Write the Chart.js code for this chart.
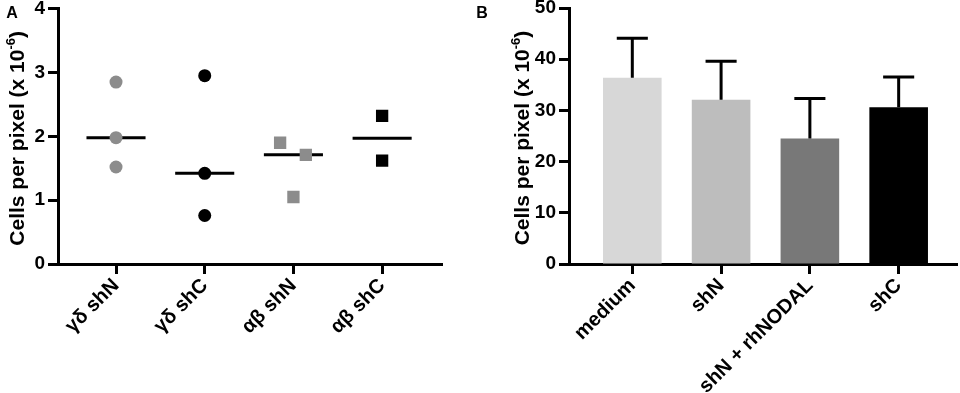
<!DOCTYPE html>
<html><head><meta charset="utf-8">
<script src="https://cdn.jsdelivr.net/npm/chart.js@4.4.1/dist/chart.umd.min.js"></script>
<style>
html,body{margin:0;padding:0;background:#fff;}
#wrap{position:relative;width:960px;height:393px;overflow:hidden;}
canvas{position:absolute;top:0;}
</style></head><body>
<div id="wrap">
<canvas id="a" width="470" height="393" style="left:0"></canvas>
<canvas id="b" width="490" height="393" style="left:470px"></canvas>
</div>
<script>
// ---------- Panel A data ----------
const groupsA = ['γδ shN', 'γδ shC', 'αβ shN', 'αβ shC'];
const gdShN = [2.85, 1.98, 1.52];
const gdShC = [2.95, 1.42, 0.76];
const abShN = [1.90, 1.71, 1.05];
const abShC = [2.32, 1.62];
const abShNJitter = [-0.15, 0.14, 0];   // horizontal scatter within the column
const ticksA = [0, 1, 2, 3, 4];

// ---------- Panel B data ----------
const treatments = ['medium', 'shN', 'shN + rhNODAL', 'shC'];
const meanB = [36.4, 32.1, 24.5, 30.6];
const errB = [7.7, 7.5, 7.8, 5.9];
const ticksB = [0, 10, 20, 30, 40, 50];

const FONT = "'Liberation Sans', Arial, Helvetica, sans-serif";
const GRAY_MARK = '#8c8c8c';
const barColors = ['#d7d7d7', '#bdbdbd', '#787878', '#000000'];

function median(arr) {
  const s = [...arr].sort((a, b) => a - b);
  const m = Math.floor(s.length / 2);
  return s.length % 2 ? s[m] : (s[m - 1] + s[m]) / 2;
}

// title with superscript + panel letter
const titlePlugin = {
  id: 'panelTitle',
  afterDraw(chart, args, o) {
    const ctx = chart.ctx;
    const ca = chart.chartArea;
    const fs = o.size;
    ctx.save();
    ctx.fillStyle = '#000';
    ctx.font = 'bold ' + o.letterSize + 'px ' + FONT;
    ctx.textAlign = 'center';
    ctx.textBaseline = 'middle';
    ctx.fillText(o.letter, o.letterX, o.letterY);
    const cy = (ca.top + ca.bottom) / 2 + o.dy;
    ctx.translate(o.x, cy);
    ctx.rotate(-Math.PI / 2);
    ctx.textAlign = 'left';
    ctx.textBaseline = 'alphabetic';
    const mainFont = 'bold ' + fs + 'px ' + FONT;
    const supFont = 'bold ' + Math.round(fs * 0.62) + 'px ' + FONT;
    ctx.font = mainFont; const w1 = ctx.measureText(o.text).width;
    ctx.font = supFont; const w2 = ctx.measureText(o.sup).width;
    ctx.font = mainFont; const w3 = ctx.measureText(o.tail).width;
    let x = -(w1 + w2 + w3) / 2;
    const base = fs * 0.36;
    ctx.font = mainFont; ctx.fillText(o.text, x, base); x += w1;
    ctx.font = supFont; ctx.fillText(o.sup, x, base - fs * 0.42); x += w2;
    ctx.font = mainFont; ctx.fillText(o.tail, x, base);
    ctx.restore();
  }
};

const medianPlugin = {
  id: 'medianLines',
  beforeDatasetsDraw(chart, args, o) {
    const ctx = chart.ctx, xs = chart.scales.x, ys = chart.scales.y;
    ctx.save();
    ctx.strokeStyle = '#000';
    ctx.lineWidth = 3;
    o.groups.forEach((vals, i) => {
      const y = ys.getPixelForValue(median(vals));
      ctx.beginPath();
      ctx.moveTo(xs.getPixelForValue(i + 1 - o.half), y);
      ctx.lineTo(xs.getPixelForValue(i + 1 + o.half), y);
      ctx.stroke();
    });
    ctx.restore();
  }
};

const errorPlugin = {
  id: 'errorBars',
  afterDatasetsDraw(chart, args, o) {
    const ctx = chart.ctx, xs = chart.scales.x, ys = chart.scales.y;
    ctx.save();
    ctx.strokeStyle = '#000';
    ctx.lineWidth = 3;
    meanB.forEach((m, i) => {
      const x = xs.getPixelForValue(i + 1);
      const y0 = ys.getPixelForValue(m);
      const y1 = ys.getPixelForValue(m + errB[i]);
      ctx.beginPath();
      ctx.moveTo(x, y0); ctx.lineTo(x, y1);
      ctx.moveTo(xs.getPixelForValue(i + 1 - o.cap), y1);
      ctx.lineTo(xs.getPixelForValue(i + 1 + o.cap), y1);
      ctx.stroke();
    });
    ctx.restore();
  }
};

function xAxis(min, max, labels) {
  return {
    type: 'linear', min, max, offset: false,
    afterBuildTicks: s => { s.ticks = labels.map((_, i) => ({ value: i + 1 })); },
    afterFit: s => { s.height = 393 - 264; s.paddingLeft = 0; s.paddingRight = 0; },
    ticks: {
      autoSkip: false, minRotation: 45, maxRotation: 45, padding: 0,
      color: '#000', font: { family: FONT, size: 20, weight: 'bold' },
      callback: v => labels[Math.round(v) - 1]
    },
    grid: { display: true, offset: false, drawOnChartArea: false, drawTicks: true, tickLength: 10, tickWidth: 3, tickColor: '#000' },
    border: { display: true, color: '#000', width: 3 }
  };
}
function yAxis(max, step, width, tickVals) {
  return {
    type: 'linear', min: 0, max,
    afterBuildTicks: s => { s.ticks = tickVals.map(v => ({ value: v })); },
    afterFit: s => { s.width = width; s.paddingTop = 0; s.paddingBottom = 0; },
    ticks: { stepSize: step, padding: 3, color: '#000', font: { family: FONT, size: 19, weight: 'bold' } },
    grid: { display: true, drawOnChartArea: false, drawTicks: true, tickLength: 10, tickWidth: 3, tickColor: '#000' },
    border: { display: true, color: '#000', width: 3 }
  };
}

// ---------- Panel A ----------
const groupVals = [gdShN, gdShC, abShN, abShC];
const styles = [
  { c: GRAY_MARK, s: 'circle', r: 6.5 },
  { c: '#000', s: 'circle', r: 6.5 },
  { c: GRAY_MARK, s: 'rect', r: 8.7 },
  { c: '#000', s: 'rect', r: 8.7 }
];
new Chart(document.getElementById('a'), {
  type: 'scatter',
  data: {
    datasets: groupVals.map((vals, i) => ({
      label: groupsA[i],
      data: vals.map((v, j) => ({ x: i + 1 + (i === 2 ? abShNJitter[j] : 0), y: v })),
      pointStyle: styles[i].s,
      pointRadius: styles[i].r,
      pointHoverRadius: styles[i].r,
      backgroundColor: styles[i].c,
      borderColor: styles[i].c,
      borderWidth: 0
    }))
  },
  options: {
    responsive: false, animation: false, events: [],
    layout: { padding: { top: 8, right: 28, left: 0, bottom: 0 } },
    plugins: {
      legend: { display: false }, tooltip: { enabled: false },
      medianLines: { groups: groupVals, half: 0.333 },
      panelTitle: { letter: 'A', letterX: 12, letterY: 14, letterSize: 16, x: 16, dy: 2,
        size: 21, text: 'Cells per pixel (x 10', sup: '-6', tail: ')' }
    },
    scales: { x: xAxis(0.346, 4.675, groupsA), y: yAxis(4, 1, 58, ticksA) }
  },
  plugins: [medianPlugin, titlePlugin]
});

// ---------- Panel B ----------
new Chart(document.getElementById('b'), {
  type: 'bar',
  data: {
    datasets: [{
      data: meanB.map((v, i) => ({ x: i + 1, y: v })),
      backgroundColor: barColors,
      borderWidth: 0,
      categoryPercentage: 1,
      barPercentage: 0.66
    }]
  },
  options: {
    responsive: false, animation: false, events: [],
    layout: { padding: { top: 8, right: 3, left: 0, bottom: 0 } },
    plugins: {
      legend: { display: false }, tooltip: { enabled: false },
      errorBars: { cap: 0.175 },
      panelTitle: { letter: 'B', letterX: 12, letterY: 14, letterSize: 16, x: 51, dy: 2,
        size: 21, text: 'Cells per pixel (x 10', sup: '-6', tail: ')' }
    },
    scales: { x: xAxis(0.287, 4.657, treatments), y: yAxis(50, 10, 99, ticksB) }
  },
  plugins: [errorPlugin, titlePlugin]
});
</script>
</body></html>
